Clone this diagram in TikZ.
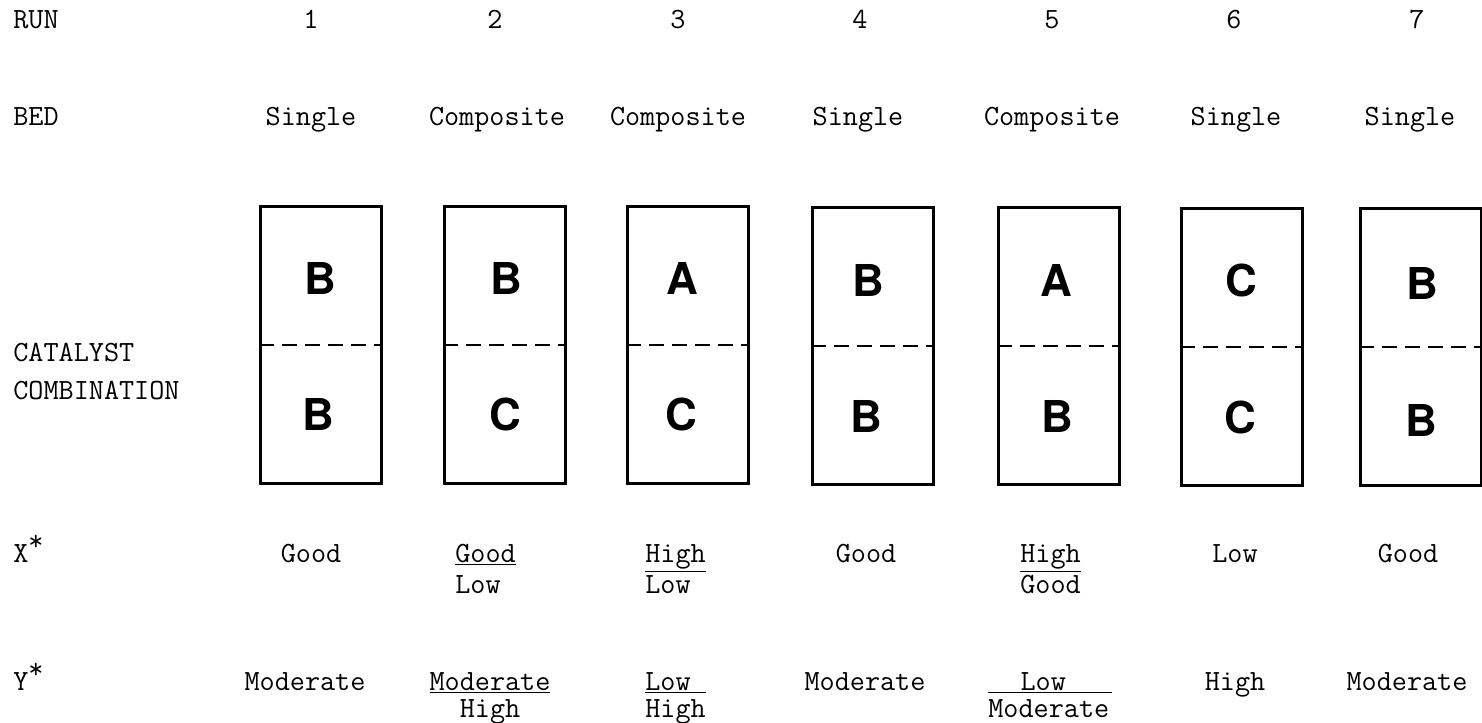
\documentclass[tikz,border=0pt]{standalone}
\usepackage{fontspec}
\usepackage{tikz}
\usetikzlibrary{positioning}
\newfontfamily\helv{TeX Gyre Heros}

\begin{document}
\begin{tikzpicture}[x=0.02cm,y=-0.02cm,
  lbl/.style={font=\ttfamily\fontsize{16.7}{18.1}\selectfont,inner sep=0pt,anchor=base west},
  val/.style={font=\ttfamily\fontsize{16.7}{18.1}\selectfont,inner sep=0pt,anchor=base},
  lval/.style={val,anchor=base west},
  bedbox/.style={draw,line width=1.6pt,minimum width=2.42cm,minimum height=5.54cm,inner sep=0pt},
  cat/.style={font=\helv\bfseries\fontsize{25}{30}\selectfont,inner sep=0pt},
  split/.style={line width=1.1pt,dash pattern=on 0.3cm off 0.16cm}
]
\useasboundingbox (0,0) rectangle (1482,723);

% row labels
\node[lbl] (run) at (13,29) {RUN};
\node[lbl] (bed) at (13,126) {BED};
\node[lbl] (cat1) at (13,361) {CATALYST};
\node[lbl] (cat2) at (13,399) {COMBINATION};
\node[lbl] (xlab) at (13,562) {X\raisebox{0.9ex}{*}};
\node[lbl] (ylab) at (13,690) {Y\raisebox{0.9ex}{*}};

% run numbers and bed type
\node[val] (r1) at (311,29) {1};  \node[val] (t1) at (311,126) {Single};
\node[val] (r2) at (495,29) {2};  \node[val] (t2) at (497,126) {Composite};
\node[val] (r3) at (678,29) {3};  \node[val] (t3) at (678,126) {Composite};
\node[val] (r4) at (860,29) {4};  \node[val] (t4) at (858,126) {Single};
\node[val] (r5) at (1052,29) {5}; \node[val] (t5) at (1052,126) {Composite};
\node[val] (r6) at (1234,29) {6}; \node[val] (t6) at (1236,126) {Single};
\node[val] (r7) at (1417,29) {7}; \node[val] (t7) at (1410,126) {Single};

% catalyst beds
\node[bedbox] (b1) at (321,345) {};
\node[bedbox] (b2) at (505,345) {};
\node[bedbox] (b3) at (688,345) {};
\node[bedbox] (b4) at (873,346) {};
\node[bedbox] (b5) at (1059,346) {};
\node[bedbox] (b6) at (1242,347) {};
\node[bedbox] (b7) at (1421,347) {};
\draw[split] (b1.west) -- (b1.east); \draw[split] (b2.west) -- (b2.east);
\draw[split] (b3.west) -- (b3.east); \draw[split] (b4.west) -- (b4.east);
\draw[split] (b5.west) -- (b5.east); \draw[split] (b6.west) -- (b6.east);
\draw[split] (b7.west) -- (b7.east);

\node[cat] (u1) at (320,278) {B};  \node[cat] (l1) at (318,414) {B};
\node[cat] (u2) at (506,278) {B};  \node[cat] (l2) at (505,414) {C};
\node[cat] (u3) at (682,278) {A};  \node[cat] (l3) at (681,414) {C};
\node[cat] (u4) at (868,280) {B};  \node[cat] (l4) at (866,416) {B};
\node[cat] (u5) at (1056,280) {A}; \node[cat] (l5) at (1057,416) {B};
\node[cat] (u6) at (1241,280) {C}; \node[cat] (l6) at (1240,417) {C};
\node[cat] (u7) at (1422,283) {B}; \node[cat] (l7) at (1421,420) {B};

% X values
\node[val] (x1) at (311,562) {Good};
\node[lval] (x2) at (455,562) {\underline{Good}};
\node[lval] (x2b) at ([yshift=-0.64cm]x2.base west) {Low};
\node[lval] (x3) at (645,562) {\underline{High}};
\node[lval] (x3b) at ([yshift=-0.64cm]x3.base west) {Low};
\node[val] (x4) at (866,562) {Good};
\node[lval] (x5) at (1020,562) {\underline{High}};
\node[lval] (x5b) at ([yshift=-0.64cm]x5.base west) {Good};
\node[val] (x6) at (1235,562) {Low};
\node[val] (x7) at (1408,562) {Good};

% Y values
\node[val] (y1) at (305,690) {Moderate};
\node[val] (y2) at (490,690) {\underline{Moderate}};
\node[val] (y2b) at ([yshift=-0.56cm]y2.base) {High};
\node[lval] (y3) at (645,690) {\underline{Low\ }};
\node[lval] (y3b) at ([yshift=-0.56cm]y3.base west) {High};
\node[val] (y4) at (865,690) {Moderate};
\node[lval] (y5) at (988,690) {\underline{\makebox[4.2em][l]{\hspace{1.1em}Low}}};
\node[lval] (y5b) at ([yshift=-0.56cm]y5.base west) {Moderate};
\node[val] (y6) at (1235,690) {High};
\node[val] (y7) at (1407,690) {Moderate};
\end{tikzpicture}
\end{document}
